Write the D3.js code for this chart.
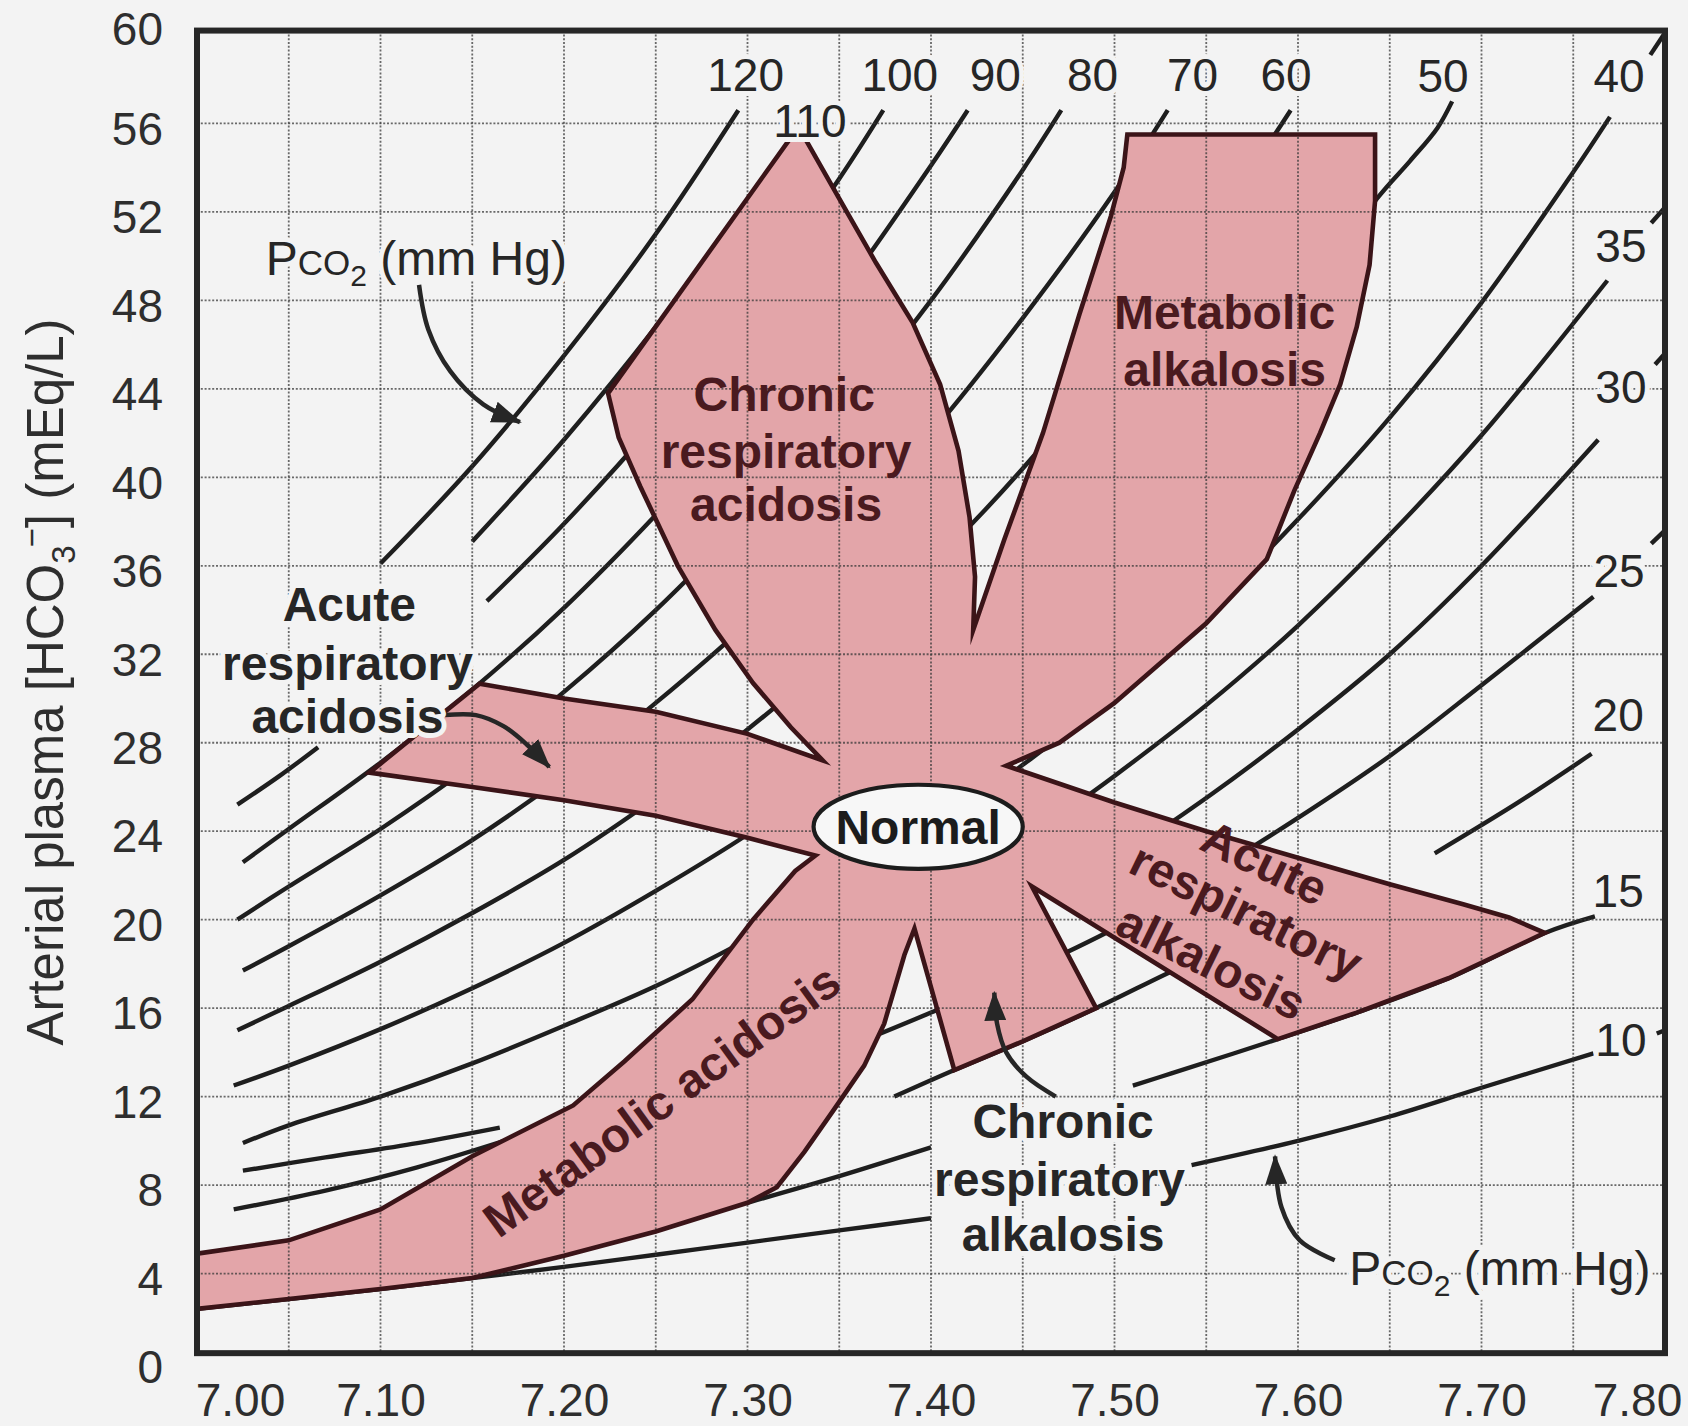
<!DOCTYPE html>
<html>
<head>
<meta charset="utf-8">
<title>Acid-base nomogram</title>
<script src="https://cdn.jsdelivr.net/npm/d3@7/dist/d3.min.js"></script>
<style>
  html, body { margin:0; padding:0; background:#f3f3f3; }
  svg { display:block; }
</style>
</head>
<body>
<svg id="chart" width="1688" height="1426"></svg>
<script>
// ---------------- DATA ----------------
const phTicks   = [7.0, 7.1, 7.2, 7.3, 7.4, 7.5, 7.6, 7.7, 7.8];
const hco3Ticks = [0, 4, 8, 12, 16, 20, 24, 28, 32, 36, 40, 44, 48, 52, 56, 60];
const gridPh    = [7.05, 7.10, 7.15, 7.20, 7.25, 7.30, 7.35, 7.40, 7.45, 7.50, 7.55, 7.60, 7.65, 7.70, 7.75];
const gridHco3  = [4, 8, 12, 16, 20, 24, 28, 32, 36, 40, 44, 48, 52, 56];

// PCO2 isopleth segments, [pH, HCO3-]
const isopleths = [
  { pco2: 120, pts: [[7.10,36.1],[7.15,40.5],[7.20,45.5],[7.25,51.0],[7.295,56.6]] },
  { pco2: 110, pts: [[7.15,37.1],[7.20,41.7],[7.25,46.8],[7.30,52.5]] },
  { pco2: 100, pts: [[7.022,25.2],[7.045,26.5],[7.066,27.8]] },
  { pco2: 100, pts: [[7.158,34.4],[7.20,37.9],[7.25,42.5],[7.30,47.7],[7.35,53.5],[7.374,56.6]] },
  { pco2: 90,  pts: [[7.025,22.6],[7.05,24.1],[7.10,27.1],[7.15,30.4],[7.20,34.1],[7.25,38.3],[7.30,42.9],[7.35,48.2],[7.40,54.1],[7.42,56.6]] },
  { pco2: 80,  pts: [[7.022,20.0],[7.05,21.5],[7.10,24.1],[7.15,27.0],[7.20,30.3],[7.25,34.0],[7.30,38.2],[7.35,42.8],[7.40,48.0],[7.45,53.9],[7.471,56.6]] },
  { pco2: 70,  pts: [[7.025,17.7],[7.05,18.8],[7.10,21.1],[7.15,23.6],[7.20,26.5],[7.25,29.8],[7.30,33.4],[7.35,37.5],[7.40,42.0],[7.45,47.2],[7.50,52.9],[7.529,56.6]] },
  { pco2: 60,  pts: [[7.022,15.0],[7.05,16.1],[7.10,18.1],[7.15,20.3],[7.20,22.7],[7.25,25.5],[7.30,28.6],[7.35,32.1],[7.40,36.0],[7.45,40.4],[7.50,45.4],[7.55,50.9],[7.596,56.6]] },
  { pco2: 50,  pts: [[7.02,12.5],[7.05,13.4],[7.10,15.05],[7.15,16.9],[7.20,18.95],[7.25,21.3],[7.30,23.85],[7.35,26.8],[7.40,30.0],[7.45,33.7],[7.50,37.8],[7.55,42.4],[7.60,47.6],[7.643,52.6],[7.661,54.3],[7.676,55.8],[7.684,57.0]] },
  { pco2: 40,  pts: [[7.025,9.9],[7.05,10.7],[7.10,12.0],[7.15,13.5],[7.20,15.2],[7.25,17.0],[7.30,19.1],[7.35,21.4],[7.40,24.0],[7.45,27.0],[7.50,30.2],[7.55,33.9],[7.60,38.1],[7.65,42.7],[7.70,47.9],[7.75,53.8],[7.770,56.3]] },
  { pco2: 40,  pts: [[7.792,59.1],[7.80,60.1]] },
  { pco2: 35,  pts: [[7.025,8.65],[7.07,9.25],[7.12,9.9],[7.165,10.6]] },
  { pco2: 35,  pts: [[7.47,24.7],[7.50,26.5],[7.55,29.7],[7.60,33.3],[7.65,37.4],[7.70,41.9],[7.7686,48.9]] },
  { pco2: 35,  pts: [[7.7925,51.5],[7.80,52.2]] },
  { pco2: 30,  pts: [[7.02,6.9],[7.07,7.75],[7.12,8.8],[7.177,10.25]] },
  { pco2: 30,  pts: [[7.47,21.2],[7.50,22.7],[7.55,25.5],[7.60,28.6],[7.65,32.0],[7.70,36.0],[7.7636,41.7]] },
  { pco2: 30,  pts: [[7.7946,45.1],[7.80,45.6]] },
  { pco2: 25,  pts: [[7.365,14.6],[7.40,15.8],[7.45,17.6],[7.50,19.6],[7.55,22.0],[7.60,24.6],[7.65,27.4],[7.70,30.6],[7.761,34.6]] },
  { pco2: 25,  pts: [[7.7925,37.0],[7.80,37.6]] },
  { pco2: 20,  pts: [[7.38,12.0],[7.4127,13.2],[7.45,14.5],[7.49,16.0],[7.527,17.5],[7.55,18.4]] },
  { pco2: 20,  pts: [[7.6745,23.0],[7.72,25.3],[7.76,27.5]] },
  { pco2: 15,  pts: [[7.30,7.2],[7.35,8.4],[7.40,9.7]] },
  { pco2: 15,  pts: [[7.51,12.5],[7.531,13.05],[7.589,14.6],[7.632,15.8],[7.682,17.35],[7.7345,19.4],[7.7618,20.15]] },
  { pco2: 10,  pts: [[7.00,2.4],[7.05,2.85],[7.10,3.3],[7.15,3.8],[7.20,4.3],[7.25,4.85],[7.30,5.4],[7.35,5.95],[7.40,6.5]] },
  { pco2: 10,  pts: [[7.542,8.9],[7.60,10.0],[7.65,11.1],[7.70,12.4],[7.761,13.95]] },
  { pco2: 10,  pts: [[7.7955,14.85],[7.80,15.0]] }
];

// Outline of the shaded (star-shaped) disorder zones, [pH, HCO3-]
const starRegion = [
  [7.3235,55.35],[7.3315,55.3],[7.35,52.6],[7.37,49.7],[7.39,47.0],[7.405,44.2],[7.415,41.2],[7.421,38.2],[7.424,35.5],[7.423,33.1],
  [7.44,37.2],[7.461,42.0],[7.481,47.4],[7.498,51.8],[7.505,54.0],[7.507,55.5],[7.642,55.5],[7.642,52.5],[7.639,49.6],[7.632,46.8],
  [7.623,44.2],[7.612,42.0],[7.598,39.4],[7.583,36.3],[7.55,33.4],[7.50,29.8],[7.47,28.0],[7.441,26.96],
  [7.50,25.3],[7.55,24.0],[7.60,22.8],[7.65,21.6],[7.69,20.7],[7.715,20.1],[7.7345,19.4],[7.70,18.05],[7.682,17.35],[7.632,15.8],[7.589,14.6],[7.455,21.5],
  [7.49,16.0],[7.45,14.5],[7.4127,13.2],[7.391,19.6],
  [7.3855,18.4],[7.3745,15.3],[7.3636,13.4],[7.347,11.4],[7.331,9.5],[7.316,7.9],[7.30,7.2],[7.25,5.9],[7.20,4.8],[7.15,3.8],[7.10,3.3],[7.05,2.85],[7.00,2.4],
  [7.00,4.9],[7.05,5.5],[7.10,6.9],[7.15,9.3],[7.205,11.6],[7.233,13.6],[7.27,16.4],[7.303,20.0],[7.326,22.2],[7.337,22.9],
  [7.30,23.7],[7.25,24.7],[7.20,25.4],[7.15,26.0],[7.094,26.65],[7.12,28.4],[7.154,30.67],[7.20,30.0],[7.25,29.4],[7.30,28.4],[7.341,27.2],
  [7.3236,28.7],[7.303,30.7],[7.2825,33.1],[7.262,36.0],[7.2415,39.6],[7.2298,41.8],[7.224,43.8]
];

const normalBox = { ph0: 7.336, ph1: 7.450, h0: 22.3, h1: 26.1 };

const pco2Labels = [
  {t:"120", ph:7.299, h:58.2}, {t:"110", ph:7.334, h:56.15}, {t:"100", ph:7.383, h:58.2},
  {t:"90", ph:7.435, h:58.2}, {t:"80", ph:7.488, h:58.2}, {t:"70", ph:7.5425, h:58.2},
  {t:"60", ph:7.5935, h:58.2}, {t:"50", ph:7.679, h:58.15}, {t:"40", ph:7.775, h:58.15},
  {t:"35", ph:7.776, h:50.5}, {t:"30", ph:7.776, h:44.1}, {t:"25", ph:7.775, h:35.8},
  {t:"20", ph:7.7745, h:29.3}, {t:"15", ph:7.7745, h:21.3}, {t:"10", ph:7.776, h:14.6}
];

const regionText = [
  {t:"Chronic", ph:7.320, h:43.8, rot:0},
  {t:"respiratory", ph:7.321, h:41.2, rot:0},
  {t:"acidosis", ph:7.321, h:38.8, rot:0},
  {t:"Metabolic", ph:7.560, h:47.5, rot:0},
  {t:"alkalosis", ph:7.560, h:44.9, rot:0},
  {t:"Acute", ph:7.582, h:22.6, rot:26},
  {t:"respiratory", ph:7.572, h:20.4, rot:26},
  {t:"alkalosis", ph:7.553, h:18.1, rot:26},
  {t:"Metabolic acidosis", ph:7.253, h:11.85, rot:-36}
];

const outsideText = [
  {t:"Acute", ph:7.083, h:34.3},
  {t:"respiratory", ph:7.082, h:31.6},
  {t:"acidosis", ph:7.082, h:29.2},
  {t:"Chronic", ph:7.472, h:10.9},
  {t:"respiratory", ph:7.470, h:8.3},
  {t:"alkalosis", ph:7.472, h:5.8}
];

const pco2Titles = [ {ph:7.1195, h:49.95}, {ph:7.710, h:4.25} ];

const arrows = [
  [[7.121,48.7],[7.126,46.7],[7.138,44.8],[7.156,43.3],[7.176,42.5]],
  [[7.620,4.6],[7.601,5.5],[7.591,7.0],[7.5875,9.3]],
  [[7.135,29.25],[7.152,29.25],[7.167,28.75],[7.180,27.9],[7.192,26.9]],
  [[7.468,12.0],[7.452,12.9],[7.441,14.0],[7.436,15.3],[7.4345,16.7]]
];

// ---------------- DRAWING ----------------
const FONT = '"Liberation Sans", Arial, Helvetica, sans-serif';
const BG = "#f3f3f3";
const INK = "#262626";
const MAROON = "#4a1a1f";
const PINK = "#e3a5a9";

const svg = d3.select("#chart");
svg.append("rect").attr("width",1688).attr("height",1426).attr("fill",BG);

const x = d3.scaleLinear().domain([7.0, 7.8]).range([197, 1665]);
const y = d3.scaleLinear().domain([0, 60]).range([1362, 35]);
const frameTop = y(60.2), frameBot = y(0.4);

const defs = svg.append("defs");
defs.append("clipPath").attr("id","plotClip").append("rect")
  .attr("x", x(7.0)).attr("y", frameTop).attr("width", x(7.8)-x(7.0)).attr("height", frameBot-frameTop);
defs.append("marker").attr("id","arrowHead")
  .attr("viewBox","0 0 30 22").attr("refX",28).attr("refY",11)
  .attr("markerWidth",30).attr("markerHeight",22)
  .attr("markerUnits","userSpaceOnUse").attr("orient","auto")
  .append("path").attr("d","M0,0 L30,11 L0,22 Z").attr("fill",INK);

const isoLine = d3.line().x(d=>x(d[0])).y(d=>y(d[1])).curve(d3.curveCatmullRom.alpha(0.5));
const polyLine = d3.line().x(d=>x(d[0])).y(d=>y(d[1])).curve(d3.curveLinearClosed);

const plot = svg.append("g").attr("clip-path","url(#plotClip)");

// isopleths (under the shaded zones)
plot.append("g").selectAll("path").data(isopleths).join("path")
  .attr("d", d => isoLine(d.pts))
  .attr("fill","none").attr("stroke","#1e1e1e").attr("stroke-width",4.4);

// shaded zones fill
plot.append("path").datum(starRegion).attr("d", polyLine).attr("fill", PINK);

// grid
const grid = plot.append("g").attr("stroke","#3a3a3a").attr("stroke-opacity",0.75)
  .attr("stroke-width",1.8).attr("stroke-dasharray","2,1.8");
grid.selectAll("line.v").data(gridPh).join("line").attr("class","v")
  .attr("x1",d=>x(d)).attr("x2",d=>x(d)).attr("y1",frameTop).attr("y2",frameBot);
grid.selectAll("line.h").data(gridHco3).join("line").attr("class","h")
  .attr("y1",d=>y(d)).attr("y2",d=>y(d)).attr("x1",x(7.0)).attr("x2",x(7.8));

// zone outline
plot.append("path").datum(starRegion).attr("d", polyLine)
  .attr("fill","none").attr("stroke","#3b1418").attr("stroke-width",4.6)
  .attr("stroke-linejoin","miter").attr("stroke-miterlimit",8);

// Normal ellipse
svg.append("ellipse")
  .attr("cx", (x(normalBox.ph0)+x(normalBox.ph1))/2)
  .attr("cy", (y(normalBox.h0)+y(normalBox.h1))/2)
  .attr("rx", (x(normalBox.ph1)-x(normalBox.ph0))/2)
  .attr("ry", (y(normalBox.h0)-y(normalBox.h1))/2)
  .attr("fill","#f7f7f7").attr("stroke","#1c1c1c").attr("stroke-width",4.2);
svg.append("text").attr("x", x((normalBox.ph0+normalBox.ph1)/2)).attr("y", y((normalBox.h0+normalBox.h1)/2))
  .attr("dy","0.36em").attr("text-anchor","middle")
  .attr("font-family",FONT).attr("font-weight","bold").attr("font-size",48).attr("fill","#1c1c1c")
  .text("Normal");

// arrows
const arrowLine = d3.line().x(d=>x(d[0])).y(d=>y(d[1])).curve(d3.curveCatmullRom.alpha(0.5));
svg.append("g").selectAll("path").data(arrows).join("path")
  .attr("d", arrowLine).attr("fill","none").attr("stroke",INK).attr("stroke-width",4.5)
  .attr("marker-end","url(#arrowHead)");

// frame
svg.append("rect").attr("x",x(7.0)).attr("y",frameTop).attr("width",x(7.8)-x(7.0)).attr("height",frameBot-frameTop)
  .attr("fill","none").attr("stroke","#262626").attr("stroke-width",6);

// halo helper
function halo(sel){
  return sel.attr("paint-order","stroke").attr("stroke",BG).attr("stroke-width",10).attr("stroke-linejoin","round");
}

// PCO2 number labels
halo(svg.append("g").selectAll("text").data(pco2Labels).join("text")
  .attr("x",d=>x(d.ph)).attr("y",d=>y(d.h)).attr("dy","0.36em").attr("text-anchor","middle")
  .attr("font-family",FONT).attr("font-size",46).attr("fill",INK).text(d=>d.t));

// zone labels inside shading
svg.append("g").selectAll("text").data(regionText).join("text")
  .attr("transform", d=>`translate(${x(d.ph)},${y(d.h)}) rotate(${d.rot})`)
  .attr("dy","0.36em").attr("text-anchor","middle")
  .attr("font-family",FONT).attr("font-weight","bold").attr("font-size",48).attr("fill",MAROON)
  .text(d=>d.t);

// zone labels outside shading
halo(svg.append("g").selectAll("text").data(outsideText).join("text")
  .attr("x",d=>x(d.ph)).attr("y",d=>y(d.h)).attr("dy","0.36em").attr("text-anchor","middle")
  .attr("font-family",FONT).attr("font-weight","bold").attr("font-size",48).attr("fill",INK)
  .text(d=>d.t));

// "PCO2 (mm Hg)" titles
pco2Titles.forEach(p => {
  const t = svg.append("text").attr("x",x(p.ph)).attr("y",y(p.h)).attr("dy","0.36em")
    .attr("text-anchor","middle").attr("font-family",FONT).attr("font-size",48).attr("fill",INK);
  halo(t);
  t.append("tspan").text("P");
  t.append("tspan").attr("font-size",35).text("CO");
  t.append("tspan").attr("font-size",30).attr("dy",11).text("2");
  t.append("tspan").attr("dy",-11).text(" (mm Hg)");
});

// axes
const yAxis = d3.axisLeft(y).tickValues(hco3Ticks).tickSize(0).tickPadding(34).tickFormat(d3.format("d"));
const gy = svg.append("g").attr("transform",`translate(${x(7.0)},6)`).call(yAxis);
gy.select(".domain").remove();
gy.attr("font-family",FONT).attr("font-size",46);
gy.selectAll("text").attr("fill","#2e2e2e");
gy.selectAll(".tick").filter(d=>d===60).select("text").attr("y",-11);

const xAxis = d3.axisBottom(x).tickValues(phTicks).tickSize(0).tickPadding(30).tickFormat(d3.format(".2f"));
const gx = svg.append("g").attr("transform",`translate(0,${frameBot})`).call(xAxis);
gx.select(".domain").remove();
gx.attr("font-family",FONT).attr("font-size",46);
gx.selectAll("text").attr("fill","#2e2e2e").attr("dx", d => d===7.0 ? 43 : (d===7.8 ? -28 : 0));

// y axis title
const yt = svg.append("text").attr("transform","translate(45,682) rotate(-90)")
  .attr("text-anchor","middle").attr("dy","0.36em")
  .attr("font-family",FONT).attr("font-size",51).attr("fill","#2e2e2e");
yt.append("tspan").text("Arterial plasma [HCO");
yt.append("tspan").attr("font-size",33).attr("dy",12).text("3");
yt.append("tspan").attr("font-size",33).attr("dy",-32).attr("dx",-2).text("\u2212");
yt.append("tspan").attr("dy",20).text("] (mEq/L)");
</script>
</body>
</html>
